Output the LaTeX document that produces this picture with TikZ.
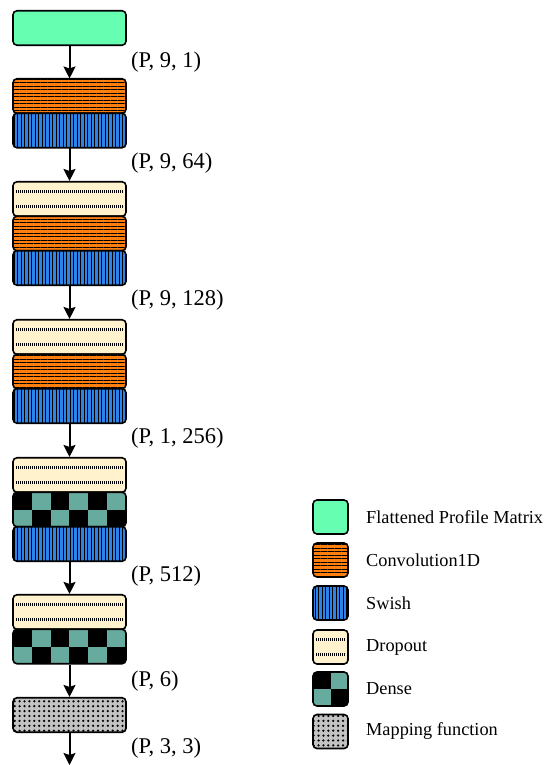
\documentclass[tikz,border=0pt]{standalone}
\usepackage{fontspec}
\setmainfont{Liberation Serif}
\usetikzlibrary{arrows.meta,patterns.meta}

\definecolor{flatgreen}{RGB}{102,255,178}
\definecolor{convorange}{RGB}{255,127,14}
\definecolor{swishblue}{RGB}{45,132,232}
\definecolor{dropcream}{RGB}{255,242,204}
\definecolor{denseteal}{RGB}{103,171,159}
\definecolor{mapgray}{RGB}{195,195,195}

\begin{document}
\begin{tikzpicture}[x=1pt,y=-1pt,
    blk/.style={draw,line width=1.6pt,rounded corners=4pt,minimum width=113pt,minimum height=34.5pt,inner sep=0pt},
    keybox/.style={draw,line width=1.6pt,rounded corners=4pt,minimum width=35pt,minimum height=34pt,inner sep=0pt},
    flat/.style={fill=flatgreen},
    conv/.style={preaction={fill=convorange},pattern={Lines[angle=0,distance=3.5pt,line width=0.55pt]},pattern color=black},
    swish/.style={preaction={fill=swishblue},pattern={Lines[angle=90,distance=3.5pt,line width=0.55pt]},pattern color=black},
    drop/.style={fill=dropcream,path picture={
        \draw[sharp corners,line width=3pt,dash pattern=on 1pt off 1pt] ([xshift=3pt,yshift=-9.5pt]path picture bounding box.north west) -- ([xshift=-3pt,yshift=-9.5pt]path picture bounding box.north east);
        \draw[sharp corners,line width=3pt,dash pattern=on 1pt off 1pt] ([xshift=3pt,yshift=9.5pt]path picture bounding box.south west) -- ([xshift=-3pt,yshift=9.5pt]path picture bounding box.south east);}},
    dense/.style={fill=denseteal,path picture={
        \foreach \c in {0,2,4} \fill[black,sharp corners] ([xshift=\c*#1pt]path picture bounding box.north west) rectangle ++(#1pt,-17.25pt);
        \foreach \c in {1,3,5} \fill[black,sharp corners] ([xshift=\c*#1pt]path picture bounding box.south west) rectangle ++(#1pt,17.25pt);}},
    map/.style={preaction={fill=mapgray},pattern={Dots[distance=4.9pt,radius=1.25pt]},pattern color=black},
    flow/.style={-{Stealth[length=12pt,width=12pt,inset=2pt]},line width=2pt},
    dimtext/.style={anchor=west,inner sep=0pt,font=\fontsize{22.5}{26}\selectfont},
    keytext/.style={anchor=west,inner sep=0pt,font=\fontsize{18.3}{22}\selectfont}]
                      \useasboundingbox (0,0) rectangle (549,765);

                      \node[blk,flat] (in) at (69.5,28) {};

                      \node[blk,conv] (c1) at (69.5,96) {};
                      \node[blk,swish] (s1) at (69.5,130.5) {};

                      \node[blk,drop] (d2) at (69.5,199) {};
                      \node[blk,conv] (c2) at (69.5,233.5) {};
                      \node[blk,swish] (s2) at (69.5,268) {};

                      \node[blk,drop] (d3) at (69.5,337) {};
                      \node[blk,conv] (c3) at (69.5,371.5) {};
                      \node[blk,swish] (s3) at (69.5,406) {};

                      \node[blk,drop] (d4) at (69.5,475) {};
                      \node[blk,dense=18.83] (n4) at (69.5,509.5) {};
                      \node[blk,swish] (s4) at (69.5,544) {};

                      \node[blk,drop] (d5) at (69.5,612) {};
                      \node[blk,dense=18.83] (n5) at (69.5,646.5) {};

                      \node[blk,map] (m) at (69.5,715) {};
                      \coordinate (out) at (69.5,765);

                      \draw[flow] (in) -- (c1);
                      \draw[flow] (s1) -- (d2);
                      \draw[flow] (s2) -- (d3);
                      \draw[flow] (s3) -- (d4);
                      \draw[flow] (s4) -- (d5);
                      \draw[flow] (n5) -- (m);
                      \draw[flow] (m) -- (out);

                      \node[dimtext] (l1) at (131,62) {(P, 9, 1)};
                      \node[dimtext] (l2) at (131,163) {(P, 9, 64)};
                      \node[dimtext] (l3) at (131,300) {(P, 9, 128)};
                      \node[dimtext] (l4) at (131,438) {(P, 1, 256)};
                      \node[dimtext] (l5) at (131,576) {(P, 512)};
                      \node[dimtext] (l6) at (131,681) {(P, 6)};
                      \node[dimtext] (l7) at (131,748) {(P, 3, 3)};

                      \node[keybox,flat] (k1) at (330.5,517) {};
                      \node[keybox,conv] (k2) at (330.5,560) {};
                      \node[keybox,swish] (k3) at (330.5,603) {};
                      \node[keybox,drop] (k4) at (330.5,647) {};
                      \node[keybox,dense=17.5] (k5) at (330.5,689) {};
                      \node[keybox,map] (k6) at (330.5,731.5) {};

                      \node[keytext] (t1) at (366,517) {Flattened Profile Matrix};
                      \node[keytext] (t2) at (366,560) {Convolution1D};
                      \node[keytext] (t3) at (366,603) {Swish};
                      \node[keytext] (t4) at (366,647) {Dropout};
                      \node[keytext] (t5) at (366,689) {Dense};
                      \node[keytext] (t6) at (366,731.5) {Mapping function};
                    \end{tikzpicture}
\end{document}
